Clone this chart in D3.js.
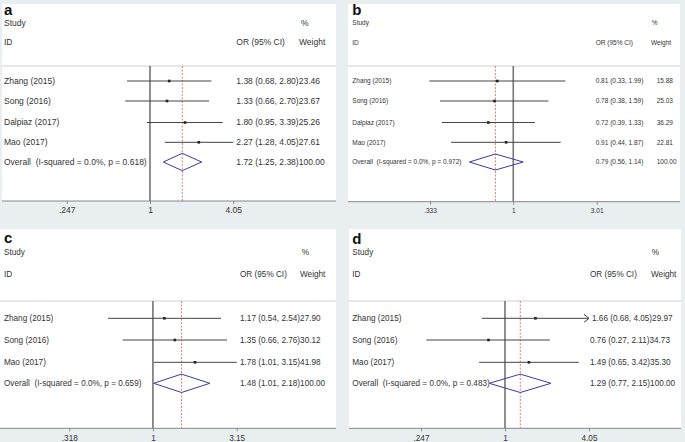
<!DOCTYPE html>
<html><head><meta charset="utf-8">
<script src="https://cdn.jsdelivr.net/npm/d3@7"></script>
<style>
html,body{margin:0;padding:0;background:#e9eff1;}
svg{display:block;}
text{font-family:"Liberation Sans",Arial,sans-serif;fill:#333;white-space:pre;}
</style></head>
<body>
<svg id="chart" width="685" height="442"></svg>
<script>
// ---------- DATA ----------
const panelLabels = ["a", "b", "c", "d"];

const studiesA = ["Zhang (2015)", "Song (2016)", "Dalpiaz (2017)", "Mao (2017)"];
const orA      = [1.38, 1.33, 1.80, 2.27];
const lowA     = [0.68, 0.66, 0.95, 1.28];
const highA    = [2.80, 2.70, 3.39, 4.05];
const clipA    = [false, false, false, false];
const weightA  = ["23.46", "23.67", "25.26", "27.61"];
const overallA = [1.72, 1.25, 2.38];
const hetA     = ["0.0%", "0.618"];
const ticksA   = [0.247, 1, 4.05];
const tickLabelsA = [".247", "1", "4.05"];

const studiesB = ["Zhang (2015)", "Song (2016)", "Dalpiaz (2017)", "Mao (2017)"];
const orB      = [0.81, 0.78, 0.72, 0.91];
const lowB     = [0.33, 0.38, 0.39, 0.44];
const highB    = [1.99, 1.59, 1.33, 1.87];
const clipB    = [false, false, false, false];
const weightB  = ["15.88", "25.03", "36.29", "22.81"];
const overallB = [0.79, 0.56, 1.14];
const hetB     = ["0.0%", "0.972"];
const ticksB   = [0.333, 1, 3.01];
const tickLabelsB = [".333", "1", "3.01"];

const studiesC = ["Zhang (2015)", "Song (2016)", "Mao (2017)"];
const orC      = [1.17, 1.35, 1.78];
const lowC     = [0.54, 0.66, 1.01];
const highC    = [2.54, 2.76, 3.15];
const clipC    = [false, false, false];
const weightC  = ["27.90", "30.12", "41.98"];
const overallC = [1.48, 1.01, 2.18];
const hetC     = ["0.0%", "0.659"];
const ticksC   = [0.318, 1, 3.15];
const tickLabelsC = [".318", "1", "3.15"];

const studiesD = ["Zhang (2015)", "Song (2016)", "Mao (2017)"];
const orD      = [1.66, 0.76, 1.49];
const lowD     = [0.68, 0.27, 0.65];
const highD    = [4.05, 2.11, 3.42];
const clipD    = [true, false, false];
const weightD  = ["29.97", "34.73", "35.30"];
const overallD = [1.29, 0.77, 2.15];
const hetD     = ["0.0%", "0.483"];
const ticksD   = [0.247, 1, 4.05];
const tickLabelsD = [".247", "1", "4.05"];

// ---------- LAYOUT ----------
const panels = [
  {label: panelLabels[0], studies: studiesA, or: orA, lo: lowA, hi: highA, clip: clipA, w: weightA, ov: overallA, het: hetA, ticks: ticksA, tickLabels: tickLabelsA,
   rect: [2, 4, 334, 197], fs: 8.5, labelY: 15, studyY: 22.7, idY: 42.3, headLine: 66,
   rows: [81, 101, 122.5, 142.3], ovY: 162, axisY: 201, tickY: 213,
   px: [66.7, 233.3], textX: 4, ciX: 236.3, pctX: 301, wtX: 299, wtCol: null, dh: 8.7, nullW: 1, nullC: "#222"},
  {label: panelLabels[1], studies: studiesB, or: orB, lo: lowB, hi: highB, clip: clipB, w: weightB, ov: overallB, het: hetB, ticks: ticksB, tickLabels: tickLabelsB,
   rect: [348, 4, 332, 198], fs: 6.5, labelY: 15, studyY: 22.7, idY: 42.3, headLine: 66,
   rows: [81, 101, 122.5, 142.3], ovY: 162, axisY: 201.7, tickY: 213,
   px: [430, 596.7], textX: 352.3, ciX: 595.7, pctX: 651.7, wtX: 651, wtCol: 656.7, dh: 8, nullW: 1.6, nullC: "#777"},
  {label: panelLabels[2], studies: studiesC, or: orC, lo: lowC, hi: highC, clip: clipC, w: weightC, ov: overallC, het: hetC, ticks: ticksC, tickLabels: tickLabelsC,
   rect: [0, 229, 336, 199], fs: 8.2, labelY: 243, studyY: 251.7, idY: 274, headLine: 301,
   rows: [318.3, 340, 362.3], ovY: 383.3, axisY: 428.3, tickY: 441,
   px: [69.3, 236.7], textX: 4, ciX: 240, pctX: 301.7, wtX: 300, wtCol: null, dh: 9.2, nullW: 1, nullC: "#222"},
  {label: panelLabels[3], studies: studiesD, or: orD, lo: lowD, hi: highD, clip: clipD, w: weightD, ov: overallD, het: hetD, ticks: ticksD, tickLabels: tickLabelsD,
   rect: [349, 229, 332, 199], fs: 8.2, labelY: 244, studyY: 251.7, idY: 274, headLine: 301,
   rows: [318.3, 340, 362.3], ovY: 383.3, axisY: 428.3, tickY: 441,
   px: [421, 589], textX: 352.3, ciX: 590, pctX: 651.7, wtX: 651, wtCol: null, dh: 9.2, nullW: 1, nullC: "#222"}
];

const svg = d3.select("#chart");

panels.forEach(p => {
  const g = svg.append("g");
  const [rx, ry, rw, rh] = p.rect;
  const fs = p.fs;
  const base = y => y + fs * 0.35;
  const x = d3.scaleLog().domain([p.ticks[0], p.ticks[p.ticks.length - 1]]).range(p.px);

  g.append("rect").attr("x", rx).attr("y", ry).attr("width", rw).attr("height", rh).attr("fill", "#fff");

  g.append("text").attr("x", p.textX).attr("y", p.labelY).text(p.label)
    .style("font-size", "15px").style("font-weight", "bold").style("fill", "#111");

  const txt = (xx, yy, s) => g.append("text").attr("x", xx).attr("y", base(yy)).text(s).style("font-size", fs + "px");
  txt(p.textX, p.studyY, "Study");
  txt(p.textX, p.idY, "ID");
  txt(p.pctX, p.studyY, "%");
  txt(p.ciX, p.idY, "OR (95% CI)");
  txt(p.wtX, p.idY, "Weight");

  g.append("line").attr("x1", rx).attr("x2", rx + rw).attr("y1", p.headLine).attr("y2", p.headLine)
    .attr("stroke", "#cfcfcf").attr("stroke-width", 1);

  g.append("line").attr("x1", x(1)).attr("x2", x(1)).attr("y1", p.headLine).attr("y2", p.axisY)
    .attr("stroke", p.nullC).attr("stroke-width", p.nullW);

  g.append("line").attr("x1", x(p.ov[0])).attr("x2", x(p.ov[0])).attr("y1", p.headLine).attr("y2", p.axisY)
    .attr("stroke", "#e07a7a").attr("stroke-width", 1).attr("stroke-dasharray", "2,1.5");

  p.studies.forEach((s, i) => {
    const y = p.rows[i];
    txt(p.textX, y, s);
    const xe = x(p.hi[i]);
    g.append("line").attr("x1", x(p.lo[i])).attr("x2", xe).attr("y1", y).attr("y2", y)
      .attr("stroke", "#444").attr("stroke-width", 1);
    if (p.clip[i]) {
      g.append("polyline").attr("points", `${xe - 5},${y - 4} ${xe},${y} ${xe - 5},${y + 4}`)
        .attr("fill", "none").attr("stroke", "#444").attr("stroke-width", 1);
    }
    const bs = 2.6;
    g.append("rect").attr("x", x(p.or[i]) - bs / 2).attr("y", y - bs / 2).attr("width", bs).attr("height", bs).attr("fill", "#222");
    const ci = `${p.or[i].toFixed(2)} (${p.lo[i].toFixed(2)}, ${p.hi[i].toFixed(2)})`;
    if (p.wtCol === null) {
      txt(p.ciX + (p.clip[i] ? 2 : 0), y, ci + p.w[i]);
    } else {
      txt(p.ciX, y, ci);
      txt(p.wtCol, y, p.w[i]);
    }
  });

  const oy = p.ovY;
  txt(p.textX, oy, `Overall  (I-squared = ${p.het[0]}, p = ${p.het[1]})`);
  const pts = [[x(p.ov[1]), oy], [x(p.ov[0]), oy - p.dh], [x(p.ov[2]), oy], [x(p.ov[0]), oy + p.dh]];
  g.append("polygon").attr("points", pts.map(d => d.join(",")).join(" "))
    .attr("fill", "none").attr("stroke", "#3b3ba6").attr("stroke-width", 1);
  const ovci = `${p.ov[0].toFixed(2)} (${p.ov[1].toFixed(2)}, ${p.ov[2].toFixed(2)})`;
  if (p.wtCol === null) {
    txt(p.ciX, oy, ovci + "100.00");
  } else {
    txt(p.ciX, oy, ovci);
    txt(p.wtCol, oy, "100.00");
  }

  g.append("line").attr("x1", rx).attr("x2", rx + rw).attr("y1", p.axisY).attr("y2", p.axisY)
    .attr("stroke", "#888").attr("stroke-width", 1);
  const axis = d3.axisBottom(x).tickValues(p.ticks).tickFormat((d, i) => p.tickLabels[i]).tickSize(3).tickSizeOuter(0);
  const ag = g.append("g").attr("transform", `translate(0,${p.axisY})`).call(axis);
  ag.select(".domain").remove();
  ag.selectAll(".tick line").attr("stroke", "#888");
  ag.selectAll(".tick text").attr("dy", null).attr("y", p.tickY - p.axisY)
    .style("font-size", fs + "px").style("font-family", "'Liberation Sans',Arial,sans-serif").attr("fill", "#333");
});
</script>
</body></html>
